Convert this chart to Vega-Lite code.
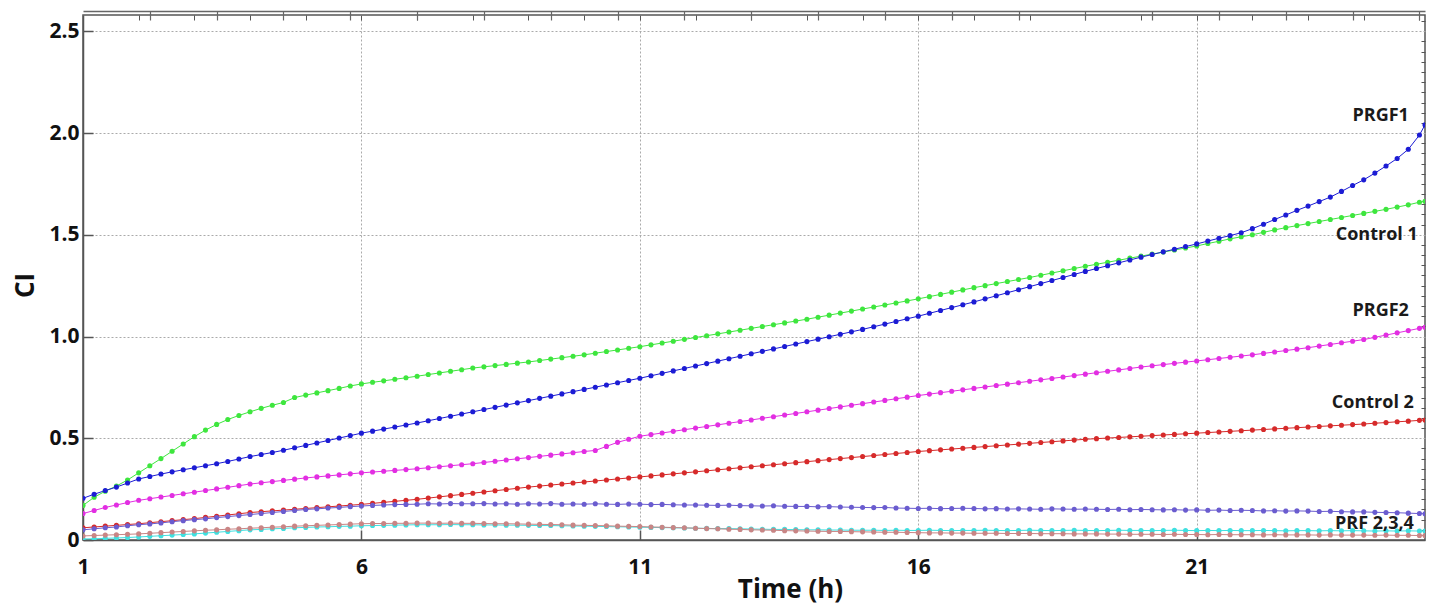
{
"$schema":"https://vega.github.io/schema/vega-lite/v6.json",
"width":1342,"height":525,
"autosize":{"type":"none"},
"padding":{"left":83,"top":15,"right":16,"bottom":75},
"background":"white",
"config":{"view":{"stroke":"#555","strokeWidth":1.5},"font":"Open Sans"},
"datasets":{
"curves":[
{"s":"C1","t":1,"v":0.17},{"s":"C1","t":1.2,"v":0.21},{"s":"C1","t":1.4,"v":0.24},{"s":"C1","t":1.6,"v":0.265},{"s":"C1","t":1.8,"v":0.295},{"s":"C1","t":2,"v":0.33},{"s":"C1","t":2.2,"v":0.365},{"s":"C1","t":2.4,"v":0.4},{"s":"C1","t":2.6,"v":0.436},{"s":"C1","t":2.8,"v":0.472},{"s":"C1","t":3,"v":0.508},{"s":"C1","t":3.2,"v":0.54},{"s":"C1","t":3.4,"v":0.568},{"s":"C1","t":3.6,"v":0.592},{"s":"C1","t":3.8,"v":0.612},{"s":"C1","t":4,"v":0.63},{"s":"C1","t":4.2,"v":0.647},{"s":"C1","t":4.4,"v":0.662},{"s":"C1","t":4.6,"v":0.676},{"s":"C1","t":4.8,"v":0.7},{"s":"C1","t":5,"v":0.712},{"s":"C1","t":5.2,"v":0.723},{"s":"C1","t":5.4,"v":0.734},{"s":"C1","t":5.6,"v":0.745},{"s":"C1","t":5.8,"v":0.757},{"s":"C1","t":6,"v":0.767},{"s":"C1","t":6.2,"v":0.775},{"s":"C1","t":6.4,"v":0.782},{"s":"C1","t":6.6,"v":0.79},{"s":"C1","t":6.8,"v":0.797},{"s":"C1","t":7,"v":0.805},{"s":"C1","t":7.2,"v":0.813},{"s":"C1","t":7.4,"v":0.821},{"s":"C1","t":7.6,"v":0.829},{"s":"C1","t":7.8,"v":0.837},{"s":"C1","t":8,"v":0.845},{"s":"C1","t":8.2,"v":0.851},{"s":"C1","t":8.4,"v":0.857},{"s":"C1","t":8.6,"v":0.863},{"s":"C1","t":8.8,"v":0.869},{"s":"C1","t":9,"v":0.875},{"s":"C1","t":9.2,"v":0.882},{"s":"C1","t":9.4,"v":0.889},{"s":"C1","t":9.6,"v":0.896},{"s":"C1","t":9.8,"v":0.903},{"s":"C1","t":10,"v":0.91},{"s":"C1","t":10.2,"v":0.918},{"s":"C1","t":10.4,"v":0.926},{"s":"C1","t":10.6,"v":0.934},{"s":"C1","t":10.8,"v":0.942},{"s":"C1","t":11,"v":0.95},{"s":"C1","t":11.2,"v":0.959},{"s":"C1","t":11.4,"v":0.968},{"s":"C1","t":11.6,"v":0.977},{"s":"C1","t":11.8,"v":0.986},{"s":"C1","t":12,"v":0.995},{"s":"C1","t":12.2,"v":1.004},{"s":"C1","t":12.4,"v":1.013},{"s":"C1","t":12.6,"v":1.022},{"s":"C1","t":12.8,"v":1.031},{"s":"C1","t":13,"v":1.04},{"s":"C1","t":13.2,"v":1.049},{"s":"C1","t":13.4,"v":1.058},{"s":"C1","t":13.6,"v":1.067},{"s":"C1","t":13.8,"v":1.076},{"s":"C1","t":14,"v":1.085},{"s":"C1","t":14.2,"v":1.095},{"s":"C1","t":14.4,"v":1.105},{"s":"C1","t":14.6,"v":1.115},{"s":"C1","t":14.8,"v":1.125},{"s":"C1","t":15,"v":1.135},{"s":"C1","t":15.2,"v":1.145},{"s":"C1","t":15.4,"v":1.155},{"s":"C1","t":15.6,"v":1.165},{"s":"C1","t":15.8,"v":1.175},{"s":"C1","t":16,"v":1.185},{"s":"C1","t":16.2,"v":1.196},{"s":"C1","t":16.4,"v":1.207},{"s":"C1","t":16.6,"v":1.218},{"s":"C1","t":16.8,"v":1.229},{"s":"C1","t":17,"v":1.24},{"s":"C1","t":17.2,"v":1.25},{"s":"C1","t":17.4,"v":1.26},{"s":"C1","t":17.6,"v":1.27},{"s":"C1","t":17.8,"v":1.28},{"s":"C1","t":18,"v":1.29},{"s":"C1","t":18.2,"v":1.301},{"s":"C1","t":18.4,"v":1.312},{"s":"C1","t":18.6,"v":1.323},{"s":"C1","t":18.8,"v":1.334},{"s":"C1","t":19,"v":1.345},{"s":"C1","t":19.2,"v":1.355},{"s":"C1","t":19.4,"v":1.365},{"s":"C1","t":19.6,"v":1.375},{"s":"C1","t":19.8,"v":1.385},{"s":"C1","t":20,"v":1.395},{"s":"C1","t":20.2,"v":1.405},{"s":"C1","t":20.4,"v":1.415},{"s":"C1","t":20.6,"v":1.425},{"s":"C1","t":20.8,"v":1.435},{"s":"C1","t":21,"v":1.445},{"s":"C1","t":21.2,"v":1.457},{"s":"C1","t":21.4,"v":1.468},{"s":"C1","t":21.6,"v":1.48},{"s":"C1","t":21.8,"v":1.49},{"s":"C1","t":22,"v":1.5},{"s":"C1","t":22.2,"v":1.512},{"s":"C1","t":22.4,"v":1.524},{"s":"C1","t":22.6,"v":1.535},{"s":"C1","t":22.8,"v":1.545},{"s":"C1","t":23,"v":1.555},{"s":"C1","t":23.2,"v":1.565},{"s":"C1","t":23.4,"v":1.575},{"s":"C1","t":23.6,"v":1.585},{"s":"C1","t":23.8,"v":1.595},{"s":"C1","t":24,"v":1.605},{"s":"C1","t":24.2,"v":1.615},{"s":"C1","t":24.4,"v":1.625},{"s":"C1","t":24.6,"v":1.636},{"s":"C1","t":24.8,"v":1.647},{"s":"C1","t":25,"v":1.66},{"s":"C1","t":25.1,"v":1.665},
{"s":"C2","t":1,"v":0.06},{"s":"C2","t":1.2,"v":0.064},{"s":"C2","t":1.4,"v":0.068},{"s":"C2","t":1.6,"v":0.072},{"s":"C2","t":1.8,"v":0.076},{"s":"C2","t":2,"v":0.08},{"s":"C2","t":2.2,"v":0.085},{"s":"C2","t":2.4,"v":0.09},{"s":"C2","t":2.6,"v":0.095},{"s":"C2","t":2.8,"v":0.1},{"s":"C2","t":3,"v":0.105},{"s":"C2","t":3.2,"v":0.111},{"s":"C2","t":3.4,"v":0.117},{"s":"C2","t":3.6,"v":0.123},{"s":"C2","t":3.8,"v":0.129},{"s":"C2","t":4,"v":0.135},{"s":"C2","t":4.2,"v":0.139},{"s":"C2","t":4.4,"v":0.143},{"s":"C2","t":4.6,"v":0.147},{"s":"C2","t":4.8,"v":0.151},{"s":"C2","t":5,"v":0.155},{"s":"C2","t":5.2,"v":0.159},{"s":"C2","t":5.4,"v":0.163},{"s":"C2","t":5.6,"v":0.167},{"s":"C2","t":5.8,"v":0.171},{"s":"C2","t":6,"v":0.175},{"s":"C2","t":6.2,"v":0.18},{"s":"C2","t":6.4,"v":0.185},{"s":"C2","t":6.6,"v":0.19},{"s":"C2","t":6.8,"v":0.195},{"s":"C2","t":7,"v":0.2},{"s":"C2","t":7.2,"v":0.206},{"s":"C2","t":7.4,"v":0.212},{"s":"C2","t":7.6,"v":0.218},{"s":"C2","t":7.8,"v":0.224},{"s":"C2","t":8,"v":0.23},{"s":"C2","t":8.2,"v":0.236},{"s":"C2","t":8.4,"v":0.242},{"s":"C2","t":8.6,"v":0.248},{"s":"C2","t":8.8,"v":0.254},{"s":"C2","t":9,"v":0.26},{"s":"C2","t":9.2,"v":0.265},{"s":"C2","t":9.4,"v":0.27},{"s":"C2","t":9.6,"v":0.275},{"s":"C2","t":9.8,"v":0.28},{"s":"C2","t":10,"v":0.285},{"s":"C2","t":10.2,"v":0.29},{"s":"C2","t":10.4,"v":0.295},{"s":"C2","t":10.6,"v":0.3},{"s":"C2","t":10.8,"v":0.305},{"s":"C2","t":11,"v":0.31},{"s":"C2","t":11.2,"v":0.315},{"s":"C2","t":11.4,"v":0.32},{"s":"C2","t":11.6,"v":0.325},{"s":"C2","t":11.8,"v":0.33},{"s":"C2","t":12,"v":0.335},{"s":"C2","t":12.2,"v":0.34},{"s":"C2","t":12.4,"v":0.345},{"s":"C2","t":12.6,"v":0.35},{"s":"C2","t":12.8,"v":0.355},{"s":"C2","t":13,"v":0.36},{"s":"C2","t":13.2,"v":0.365},{"s":"C2","t":13.4,"v":0.37},{"s":"C2","t":13.6,"v":0.375},{"s":"C2","t":13.8,"v":0.38},{"s":"C2","t":14,"v":0.385},{"s":"C2","t":14.2,"v":0.39},{"s":"C2","t":14.4,"v":0.395},{"s":"C2","t":14.6,"v":0.4},{"s":"C2","t":14.8,"v":0.405},{"s":"C2","t":15,"v":0.41},{"s":"C2","t":15.2,"v":0.415},{"s":"C2","t":15.4,"v":0.42},{"s":"C2","t":15.6,"v":0.425},{"s":"C2","t":15.8,"v":0.43},{"s":"C2","t":16,"v":0.435},{"s":"C2","t":16.2,"v":0.439},{"s":"C2","t":16.4,"v":0.443},{"s":"C2","t":16.6,"v":0.447},{"s":"C2","t":16.8,"v":0.451},{"s":"C2","t":17,"v":0.455},{"s":"C2","t":17.2,"v":0.459},{"s":"C2","t":17.4,"v":0.463},{"s":"C2","t":17.6,"v":0.467},{"s":"C2","t":17.8,"v":0.471},{"s":"C2","t":18,"v":0.475},{"s":"C2","t":18.2,"v":0.479},{"s":"C2","t":18.4,"v":0.483},{"s":"C2","t":18.6,"v":0.487},{"s":"C2","t":18.8,"v":0.491},{"s":"C2","t":19,"v":0.495},{"s":"C2","t":19.2,"v":0.498},{"s":"C2","t":19.4,"v":0.501},{"s":"C2","t":19.6,"v":0.504},{"s":"C2","t":19.8,"v":0.507},{"s":"C2","t":20,"v":0.51},{"s":"C2","t":20.2,"v":0.513},{"s":"C2","t":20.4,"v":0.516},{"s":"C2","t":20.6,"v":0.519},{"s":"C2","t":20.8,"v":0.522},{"s":"C2","t":21,"v":0.525},{"s":"C2","t":21.2,"v":0.528},{"s":"C2","t":21.4,"v":0.531},{"s":"C2","t":21.6,"v":0.534},{"s":"C2","t":21.8,"v":0.537},{"s":"C2","t":22,"v":0.54},{"s":"C2","t":22.2,"v":0.543},{"s":"C2","t":22.4,"v":0.546},{"s":"C2","t":22.6,"v":0.549},{"s":"C2","t":22.8,"v":0.552},{"s":"C2","t":23,"v":0.555},{"s":"C2","t":23.2,"v":0.558},{"s":"C2","t":23.4,"v":0.561},{"s":"C2","t":23.6,"v":0.564},{"s":"C2","t":23.8,"v":0.567},{"s":"C2","t":24,"v":0.57},{"s":"C2","t":24.2,"v":0.574},{"s":"C2","t":24.4,"v":0.577},{"s":"C2","t":24.6,"v":0.581},{"s":"C2","t":24.8,"v":0.584},{"s":"C2","t":25,"v":0.588},{"s":"C2","t":25.1,"v":0.59},
{"s":"F2","t":1,"v":0.05},{"s":"F2","t":1.2,"v":0.055},{"s":"F2","t":1.4,"v":0.06},{"s":"F2","t":1.6,"v":0.064},{"s":"F2","t":1.8,"v":0.07},{"s":"F2","t":2,"v":0.075},{"s":"F2","t":2.2,"v":0.079},{"s":"F2","t":2.4,"v":0.084},{"s":"F2","t":2.6,"v":0.09},{"s":"F2","t":2.8,"v":0.095},{"s":"F2","t":3,"v":0.1},{"s":"F2","t":3.2,"v":0.104},{"s":"F2","t":3.4,"v":0.11},{"s":"F2","t":3.6,"v":0.115},{"s":"F2","t":3.8,"v":0.12},{"s":"F2","t":4,"v":0.125},{"s":"F2","t":4.2,"v":0.13},{"s":"F2","t":4.4,"v":0.135},{"s":"F2","t":4.6,"v":0.14},{"s":"F2","t":4.8,"v":0.145},{"s":"F2","t":5,"v":0.15},{"s":"F2","t":5.2,"v":0.153},{"s":"F2","t":5.4,"v":0.157},{"s":"F2","t":5.6,"v":0.16},{"s":"F2","t":5.8,"v":0.164},{"s":"F2","t":6,"v":0.167},{"s":"F2","t":6.2,"v":0.17},{"s":"F2","t":6.4,"v":0.172},{"s":"F2","t":6.6,"v":0.174},{"s":"F2","t":6.8,"v":0.175},{"s":"F2","t":7,"v":0.176},{"s":"F2","t":7.2,"v":0.178},{"s":"F2","t":7.4,"v":0.177},{"s":"F2","t":7.6,"v":0.179},{"s":"F2","t":7.8,"v":0.178},{"s":"F2","t":8,"v":0.178},{"s":"F2","t":8.2,"v":0.179},{"s":"F2","t":8.4,"v":0.177},{"s":"F2","t":8.6,"v":0.178},{"s":"F2","t":8.8,"v":0.176},{"s":"F2","t":9,"v":0.178},{"s":"F2","t":9.2,"v":0.177},{"s":"F2","t":9.4,"v":0.179},{"s":"F2","t":9.6,"v":0.176},{"s":"F2","t":9.8,"v":0.177},{"s":"F2","t":10,"v":0.176},{"s":"F2","t":10.2,"v":0.178},{"s":"F2","t":10.4,"v":0.176},{"s":"F2","t":10.6,"v":0.175},{"s":"F2","t":10.8,"v":0.177},{"s":"F2","t":11,"v":0.176},{"s":"F2","t":11.2,"v":0.174},{"s":"F2","t":11.4,"v":0.175},{"s":"F2","t":11.6,"v":0.173},{"s":"F2","t":11.8,"v":0.172},{"s":"F2","t":12,"v":0.172},{"s":"F2","t":12.2,"v":0.171},{"s":"F2","t":12.4,"v":0.17},{"s":"F2","t":12.6,"v":0.171},{"s":"F2","t":12.8,"v":0.169},{"s":"F2","t":13,"v":0.168},{"s":"F2","t":13.2,"v":0.167},{"s":"F2","t":13.4,"v":0.168},{"s":"F2","t":13.6,"v":0.166},{"s":"F2","t":13.8,"v":0.165},{"s":"F2","t":14,"v":0.165},{"s":"F2","t":14.2,"v":0.163},{"s":"F2","t":14.4,"v":0.164},{"s":"F2","t":14.6,"v":0.162},{"s":"F2","t":14.8,"v":0.161},{"s":"F2","t":15,"v":0.16},{"s":"F2","t":15.2,"v":0.159},{"s":"F2","t":15.4,"v":0.16},{"s":"F2","t":15.6,"v":0.157},{"s":"F2","t":15.8,"v":0.156},{"s":"F2","t":16,"v":0.155},{"s":"F2","t":16.2,"v":0.156},{"s":"F2","t":16.4,"v":0.154},{"s":"F2","t":16.6,"v":0.155},{"s":"F2","t":16.8,"v":0.156},{"s":"F2","t":17,"v":0.155},{"s":"F2","t":17.2,"v":0.153},{"s":"F2","t":17.4,"v":0.154},{"s":"F2","t":17.6,"v":0.152},{"s":"F2","t":17.8,"v":0.153},{"s":"F2","t":18,"v":0.152},{"s":"F2","t":18.2,"v":0.151},{"s":"F2","t":18.4,"v":0.153},{"s":"F2","t":18.6,"v":0.152},{"s":"F2","t":18.8,"v":0.151},{"s":"F2","t":19,"v":0.152},{"s":"F2","t":19.2,"v":0.151},{"s":"F2","t":19.4,"v":0.15},{"s":"F2","t":19.6,"v":0.151},{"s":"F2","t":19.8,"v":0.149},{"s":"F2","t":20,"v":0.15},{"s":"F2","t":20.2,"v":0.149},{"s":"F2","t":20.4,"v":0.148},{"s":"F2","t":20.6,"v":0.149},{"s":"F2","t":20.8,"v":0.147},{"s":"F2","t":21,"v":0.148},{"s":"F2","t":21.2,"v":0.146},{"s":"F2","t":21.4,"v":0.147},{"s":"F2","t":21.6,"v":0.145},{"s":"F2","t":21.8,"v":0.146},{"s":"F2","t":22,"v":0.145},{"s":"F2","t":22.2,"v":0.143},{"s":"F2","t":22.4,"v":0.144},{"s":"F2","t":22.6,"v":0.142},{"s":"F2","t":22.8,"v":0.143},{"s":"F2","t":23,"v":0.142},{"s":"F2","t":23.2,"v":0.14},{"s":"F2","t":23.4,"v":0.141},{"s":"F2","t":23.6,"v":0.139},{"s":"F2","t":23.8,"v":0.138},{"s":"F2","t":24,"v":0.138},{"s":"F2","t":24.2,"v":0.136},{"s":"F2","t":24.4,"v":0.135},{"s":"F2","t":24.6,"v":0.134},{"s":"F2","t":24.8,"v":0.132},{"s":"F2","t":25,"v":0.13},{"s":"F2","t":25.1,"v":0.129},
{"s":"F3","t":1,"v":0.005},{"s":"F3","t":1.2,"v":0.006},{"s":"F3","t":1.4,"v":0.008},{"s":"F3","t":1.6,"v":0.01},{"s":"F3","t":1.8,"v":0.012},{"s":"F3","t":2,"v":0.015},{"s":"F3","t":2.2,"v":0.018},{"s":"F3","t":2.4,"v":0.021},{"s":"F3","t":2.6,"v":0.024},{"s":"F3","t":2.8,"v":0.027},{"s":"F3","t":3,"v":0.03},{"s":"F3","t":3.2,"v":0.034},{"s":"F3","t":3.4,"v":0.038},{"s":"F3","t":3.6,"v":0.042},{"s":"F3","t":3.8,"v":0.046},{"s":"F3","t":4,"v":0.05},{"s":"F3","t":4.2,"v":0.052},{"s":"F3","t":4.4,"v":0.055},{"s":"F3","t":4.6,"v":0.057},{"s":"F3","t":4.8,"v":0.06},{"s":"F3","t":5,"v":0.062},{"s":"F3","t":5.2,"v":0.064},{"s":"F3","t":5.4,"v":0.065},{"s":"F3","t":5.6,"v":0.067},{"s":"F3","t":5.8,"v":0.068},{"s":"F3","t":6,"v":0.07},{"s":"F3","t":6.2,"v":0.071},{"s":"F3","t":6.4,"v":0.072},{"s":"F3","t":6.6,"v":0.073},{"s":"F3","t":6.8,"v":0.074},{"s":"F3","t":7,"v":0.075},{"s":"F3","t":7.2,"v":0.075},{"s":"F3","t":7.4,"v":0.075},{"s":"F3","t":7.6,"v":0.076},{"s":"F3","t":7.8,"v":0.075},{"s":"F3","t":8,"v":0.075},{"s":"F3","t":8.2,"v":0.074},{"s":"F3","t":8.4,"v":0.074},{"s":"F3","t":8.6,"v":0.073},{"s":"F3","t":8.8,"v":0.073},{"s":"F3","t":9,"v":0.072},{"s":"F3","t":9.2,"v":0.071},{"s":"F3","t":9.4,"v":0.071},{"s":"F3","t":9.6,"v":0.07},{"s":"F3","t":9.8,"v":0.069},{"s":"F3","t":10,"v":0.068},{"s":"F3","t":10.2,"v":0.067},{"s":"F3","t":10.4,"v":0.066},{"s":"F3","t":10.6,"v":0.065},{"s":"F3","t":10.8,"v":0.064},{"s":"F3","t":11,"v":0.063},{"s":"F3","t":11.2,"v":0.062},{"s":"F3","t":11.4,"v":0.061},{"s":"F3","t":11.6,"v":0.06},{"s":"F3","t":11.8,"v":0.059},{"s":"F3","t":12,"v":0.058},{"s":"F3","t":12.2,"v":0.057},{"s":"F3","t":12.4,"v":0.056},{"s":"F3","t":12.6,"v":0.056},{"s":"F3","t":12.8,"v":0.055},{"s":"F3","t":13,"v":0.054},{"s":"F3","t":13.2,"v":0.053},{"s":"F3","t":13.4,"v":0.052},{"s":"F3","t":13.6,"v":0.052},{"s":"F3","t":13.8,"v":0.051},{"s":"F3","t":14,"v":0.05},{"s":"F3","t":14.2,"v":0.05},{"s":"F3","t":14.4,"v":0.049},{"s":"F3","t":14.6,"v":0.049},{"s":"F3","t":14.8,"v":0.048},{"s":"F3","t":15,"v":0.048},{"s":"F3","t":15.2,"v":0.048},{"s":"F3","t":15.4,"v":0.047},{"s":"F3","t":15.6,"v":0.048},{"s":"F3","t":15.8,"v":0.047},{"s":"F3","t":16,"v":0.047},{"s":"F3","t":16.2,"v":0.048},{"s":"F3","t":16.4,"v":0.047},{"s":"F3","t":16.6,"v":0.046},{"s":"F3","t":16.8,"v":0.047},{"s":"F3","t":17,"v":0.047},{"s":"F3","t":17.2,"v":0.048},{"s":"F3","t":17.4,"v":0.047},{"s":"F3","t":17.6,"v":0.046},{"s":"F3","t":17.8,"v":0.047},{"s":"F3","t":18,"v":0.048},{"s":"F3","t":18.2,"v":0.047},{"s":"F3","t":18.4,"v":0.046},{"s":"F3","t":18.6,"v":0.047},{"s":"F3","t":18.8,"v":0.048},{"s":"F3","t":19,"v":0.047},{"s":"F3","t":19.2,"v":0.046},{"s":"F3","t":19.4,"v":0.047},{"s":"F3","t":19.6,"v":0.048},{"s":"F3","t":19.8,"v":0.047},{"s":"F3","t":20,"v":0.047},{"s":"F3","t":20.2,"v":0.046},{"s":"F3","t":20.4,"v":0.047},{"s":"F3","t":20.6,"v":0.048},{"s":"F3","t":20.8,"v":0.047},{"s":"F3","t":21,"v":0.046},{"s":"F3","t":21.2,"v":0.047},{"s":"F3","t":21.4,"v":0.046},{"s":"F3","t":21.6,"v":0.047},{"s":"F3","t":21.8,"v":0.046},{"s":"F3","t":22,"v":0.046},{"s":"F3","t":22.2,"v":0.047},{"s":"F3","t":22.4,"v":0.046},{"s":"F3","t":22.6,"v":0.045},{"s":"F3","t":22.8,"v":0.046},{"s":"F3","t":23,"v":0.046},{"s":"F3","t":23.2,"v":0.045},{"s":"F3","t":23.4,"v":0.046},{"s":"F3","t":23.6,"v":0.045},{"s":"F3","t":23.8,"v":0.046},{"s":"F3","t":24,"v":0.045},{"s":"F3","t":24.2,"v":0.044},{"s":"F3","t":24.4,"v":0.045},{"s":"F3","t":24.6,"v":0.044},{"s":"F3","t":24.8,"v":0.045},{"s":"F3","t":25,"v":0.044},{"s":"F3","t":25.1,"v":0.044},
{"s":"F4","t":1,"v":0.02},{"s":"F4","t":1.2,"v":0.022},{"s":"F4","t":1.4,"v":0.024},{"s":"F4","t":1.6,"v":0.026},{"s":"F4","t":1.8,"v":0.028},{"s":"F4","t":2,"v":0.03},{"s":"F4","t":2.2,"v":0.033},{"s":"F4","t":2.4,"v":0.036},{"s":"F4","t":2.6,"v":0.039},{"s":"F4","t":2.8,"v":0.042},{"s":"F4","t":3,"v":0.045},{"s":"F4","t":3.2,"v":0.048},{"s":"F4","t":3.4,"v":0.05},{"s":"F4","t":3.6,"v":0.053},{"s":"F4","t":3.8,"v":0.055},{"s":"F4","t":4,"v":0.058},{"s":"F4","t":4.2,"v":0.06},{"s":"F4","t":4.4,"v":0.063},{"s":"F4","t":4.6,"v":0.065},{"s":"F4","t":4.8,"v":0.068},{"s":"F4","t":5,"v":0.07},{"s":"F4","t":5.2,"v":0.072},{"s":"F4","t":5.4,"v":0.074},{"s":"F4","t":5.6,"v":0.076},{"s":"F4","t":5.8,"v":0.078},{"s":"F4","t":6,"v":0.08},{"s":"F4","t":6.2,"v":0.081},{"s":"F4","t":6.4,"v":0.081},{"s":"F4","t":6.6,"v":0.082},{"s":"F4","t":6.8,"v":0.082},{"s":"F4","t":7,"v":0.083},{"s":"F4","t":7.2,"v":0.083},{"s":"F4","t":7.4,"v":0.082},{"s":"F4","t":7.6,"v":0.083},{"s":"F4","t":7.8,"v":0.082},{"s":"F4","t":8,"v":0.082},{"s":"F4","t":8.2,"v":0.081},{"s":"F4","t":8.4,"v":0.08},{"s":"F4","t":8.6,"v":0.08},{"s":"F4","t":8.8,"v":0.079},{"s":"F4","t":9,"v":0.078},{"s":"F4","t":9.2,"v":0.077},{"s":"F4","t":9.4,"v":0.076},{"s":"F4","t":9.6,"v":0.075},{"s":"F4","t":9.8,"v":0.073},{"s":"F4","t":10,"v":0.072},{"s":"F4","t":10.2,"v":0.071},{"s":"F4","t":10.4,"v":0.07},{"s":"F4","t":10.6,"v":0.068},{"s":"F4","t":10.8,"v":0.067},{"s":"F4","t":11,"v":0.066},{"s":"F4","t":11.2,"v":0.064},{"s":"F4","t":11.4,"v":0.063},{"s":"F4","t":11.6,"v":0.061},{"s":"F4","t":11.8,"v":0.06},{"s":"F4","t":12,"v":0.058},{"s":"F4","t":12.2,"v":0.056},{"s":"F4","t":12.4,"v":0.055},{"s":"F4","t":12.6,"v":0.053},{"s":"F4","t":12.8,"v":0.052},{"s":"F4","t":13,"v":0.05},{"s":"F4","t":13.2,"v":0.049},{"s":"F4","t":13.4,"v":0.048},{"s":"F4","t":13.6,"v":0.046},{"s":"F4","t":13.8,"v":0.045},{"s":"F4","t":14,"v":0.044},{"s":"F4","t":14.2,"v":0.043},{"s":"F4","t":14.4,"v":0.042},{"s":"F4","t":14.6,"v":0.042},{"s":"F4","t":14.8,"v":0.041},{"s":"F4","t":15,"v":0.04},{"s":"F4","t":15.2,"v":0.039},{"s":"F4","t":15.4,"v":0.038},{"s":"F4","t":15.6,"v":0.038},{"s":"F4","t":15.8,"v":0.037},{"s":"F4","t":16,"v":0.036},{"s":"F4","t":16.2,"v":0.035},{"s":"F4","t":16.4,"v":0.035},{"s":"F4","t":16.6,"v":0.034},{"s":"F4","t":16.8,"v":0.034},{"s":"F4","t":17,"v":0.033},{"s":"F4","t":17.2,"v":0.033},{"s":"F4","t":17.4,"v":0.033},{"s":"F4","t":17.6,"v":0.032},{"s":"F4","t":17.8,"v":0.032},{"s":"F4","t":18,"v":0.032},{"s":"F4","t":18.2,"v":0.031},{"s":"F4","t":18.4,"v":0.031},{"s":"F4","t":18.6,"v":0.031},{"s":"F4","t":18.8,"v":0.03},{"s":"F4","t":19,"v":0.03},{"s":"F4","t":19.2,"v":0.03},{"s":"F4","t":19.4,"v":0.029},{"s":"F4","t":19.6,"v":0.029},{"s":"F4","t":19.8,"v":0.028},{"s":"F4","t":20,"v":0.028},{"s":"F4","t":20.2,"v":0.028},{"s":"F4","t":20.4,"v":0.027},{"s":"F4","t":20.6,"v":0.028},{"s":"F4","t":20.8,"v":0.027},{"s":"F4","t":21,"v":0.027},{"s":"F4","t":21.2,"v":0.026},{"s":"F4","t":21.4,"v":0.027},{"s":"F4","t":21.6,"v":0.026},{"s":"F4","t":21.8,"v":0.026},{"s":"F4","t":22,"v":0.026},{"s":"F4","t":22.2,"v":0.025},{"s":"F4","t":22.4,"v":0.026},{"s":"F4","t":22.6,"v":0.025},{"s":"F4","t":22.8,"v":0.025},{"s":"F4","t":23,"v":0.025},{"s":"F4","t":23.2,"v":0.024},{"s":"F4","t":23.4,"v":0.025},{"s":"F4","t":23.6,"v":0.024},{"s":"F4","t":23.8,"v":0.024},{"s":"F4","t":24,"v":0.024},{"s":"F4","t":24.2,"v":0.023},{"s":"F4","t":24.4,"v":0.024},{"s":"F4","t":24.6,"v":0.023},{"s":"F4","t":24.8,"v":0.023},{"s":"F4","t":25,"v":0.022},{"s":"F4","t":25.1,"v":0.022},
{"s":"G1","t":1,"v":0.205},{"s":"G1","t":1.2,"v":0.225},{"s":"G1","t":1.4,"v":0.243},{"s":"G1","t":1.6,"v":0.26},{"s":"G1","t":1.8,"v":0.28},{"s":"G1","t":2,"v":0.3},{"s":"G1","t":2.2,"v":0.312},{"s":"G1","t":2.4,"v":0.324},{"s":"G1","t":2.6,"v":0.335},{"s":"G1","t":2.8,"v":0.345},{"s":"G1","t":3,"v":0.355},{"s":"G1","t":3.2,"v":0.365},{"s":"G1","t":3.4,"v":0.375},{"s":"G1","t":3.6,"v":0.386},{"s":"G1","t":3.8,"v":0.398},{"s":"G1","t":4,"v":0.41},{"s":"G1","t":4.2,"v":0.42},{"s":"G1","t":4.4,"v":0.43},{"s":"G1","t":4.6,"v":0.441},{"s":"G1","t":4.8,"v":0.453},{"s":"G1","t":5,"v":0.465},{"s":"G1","t":5.2,"v":0.477},{"s":"G1","t":5.4,"v":0.489},{"s":"G1","t":5.6,"v":0.501},{"s":"G1","t":5.8,"v":0.513},{"s":"G1","t":6,"v":0.525},{"s":"G1","t":6.2,"v":0.535},{"s":"G1","t":6.4,"v":0.545},{"s":"G1","t":6.6,"v":0.555},{"s":"G1","t":6.8,"v":0.565},{"s":"G1","t":7,"v":0.575},{"s":"G1","t":7.2,"v":0.586},{"s":"G1","t":7.4,"v":0.597},{"s":"G1","t":7.6,"v":0.608},{"s":"G1","t":7.8,"v":0.619},{"s":"G1","t":8,"v":0.63},{"s":"G1","t":8.2,"v":0.641},{"s":"G1","t":8.4,"v":0.652},{"s":"G1","t":8.6,"v":0.663},{"s":"G1","t":8.8,"v":0.674},{"s":"G1","t":9,"v":0.685},{"s":"G1","t":9.2,"v":0.696},{"s":"G1","t":9.4,"v":0.707},{"s":"G1","t":9.6,"v":0.718},{"s":"G1","t":9.8,"v":0.729},{"s":"G1","t":10,"v":0.74},{"s":"G1","t":10.2,"v":0.751},{"s":"G1","t":10.4,"v":0.762},{"s":"G1","t":10.6,"v":0.773},{"s":"G1","t":10.8,"v":0.784},{"s":"G1","t":11,"v":0.795},{"s":"G1","t":11.2,"v":0.807},{"s":"G1","t":11.4,"v":0.819},{"s":"G1","t":11.6,"v":0.831},{"s":"G1","t":11.8,"v":0.843},{"s":"G1","t":12,"v":0.855},{"s":"G1","t":12.2,"v":0.867},{"s":"G1","t":12.4,"v":0.879},{"s":"G1","t":12.6,"v":0.891},{"s":"G1","t":12.8,"v":0.903},{"s":"G1","t":13,"v":0.915},{"s":"G1","t":13.2,"v":0.927},{"s":"G1","t":13.4,"v":0.939},{"s":"G1","t":13.6,"v":0.951},{"s":"G1","t":13.8,"v":0.963},{"s":"G1","t":14,"v":0.975},{"s":"G1","t":14.2,"v":0.987},{"s":"G1","t":14.4,"v":0.999},{"s":"G1","t":14.6,"v":1.011},{"s":"G1","t":14.8,"v":1.023},{"s":"G1","t":15,"v":1.035},{"s":"G1","t":15.2,"v":1.048},{"s":"G1","t":15.4,"v":1.061},{"s":"G1","t":15.6,"v":1.074},{"s":"G1","t":15.8,"v":1.087},{"s":"G1","t":16,"v":1.1},{"s":"G1","t":16.2,"v":1.114},{"s":"G1","t":16.4,"v":1.128},{"s":"G1","t":16.6,"v":1.142},{"s":"G1","t":16.8,"v":1.156},{"s":"G1","t":17,"v":1.17},{"s":"G1","t":17.2,"v":1.185},{"s":"G1","t":17.4,"v":1.2},{"s":"G1","t":17.6,"v":1.215},{"s":"G1","t":17.8,"v":1.23},{"s":"G1","t":18,"v":1.245},{"s":"G1","t":18.2,"v":1.26},{"s":"G1","t":18.4,"v":1.275},{"s":"G1","t":18.6,"v":1.29},{"s":"G1","t":18.8,"v":1.305},{"s":"G1","t":19,"v":1.32},{"s":"G1","t":19.2,"v":1.334},{"s":"G1","t":19.4,"v":1.348},{"s":"G1","t":19.6,"v":1.362},{"s":"G1","t":19.8,"v":1.376},{"s":"G1","t":20,"v":1.39},{"s":"G1","t":20.2,"v":1.403},{"s":"G1","t":20.4,"v":1.416},{"s":"G1","t":20.6,"v":1.429},{"s":"G1","t":20.8,"v":1.442},{"s":"G1","t":21,"v":1.455},{"s":"G1","t":21.2,"v":1.469},{"s":"G1","t":21.4,"v":1.483},{"s":"G1","t":21.6,"v":1.496},{"s":"G1","t":21.8,"v":1.51},{"s":"G1","t":22,"v":1.53},{"s":"G1","t":22.2,"v":1.552},{"s":"G1","t":22.4,"v":1.575},{"s":"G1","t":22.6,"v":1.597},{"s":"G1","t":22.8,"v":1.62},{"s":"G1","t":23,"v":1.641},{"s":"G1","t":23.2,"v":1.663},{"s":"G1","t":23.4,"v":1.685},{"s":"G1","t":23.6,"v":1.713},{"s":"G1","t":23.8,"v":1.742},{"s":"G1","t":24,"v":1.77},{"s":"G1","t":24.2,"v":1.803},{"s":"G1","t":24.4,"v":1.838},{"s":"G1","t":24.6,"v":1.875},{"s":"G1","t":24.8,"v":1.92},{"s":"G1","t":25,"v":1.99},{"s":"G1","t":25.1,"v":2.04},
{"s":"G2","t":1,"v":0.13},{"s":"G2","t":1.2,"v":0.145},{"s":"G2","t":1.4,"v":0.16},{"s":"G2","t":1.6,"v":0.172},{"s":"G2","t":1.8,"v":0.184},{"s":"G2","t":2,"v":0.195},{"s":"G2","t":2.2,"v":0.203},{"s":"G2","t":2.4,"v":0.211},{"s":"G2","t":2.6,"v":0.219},{"s":"G2","t":2.8,"v":0.227},{"s":"G2","t":3,"v":0.235},{"s":"G2","t":3.2,"v":0.243},{"s":"G2","t":3.4,"v":0.251},{"s":"G2","t":3.6,"v":0.259},{"s":"G2","t":3.8,"v":0.267},{"s":"G2","t":4,"v":0.275},{"s":"G2","t":4.2,"v":0.281},{"s":"G2","t":4.4,"v":0.287},{"s":"G2","t":4.6,"v":0.293},{"s":"G2","t":4.8,"v":0.299},{"s":"G2","t":5,"v":0.305},{"s":"G2","t":5.2,"v":0.31},{"s":"G2","t":5.4,"v":0.315},{"s":"G2","t":5.6,"v":0.32},{"s":"G2","t":5.8,"v":0.325},{"s":"G2","t":6,"v":0.33},{"s":"G2","t":6.2,"v":0.334},{"s":"G2","t":6.4,"v":0.338},{"s":"G2","t":6.6,"v":0.342},{"s":"G2","t":6.8,"v":0.346},{"s":"G2","t":7,"v":0.35},{"s":"G2","t":7.2,"v":0.355},{"s":"G2","t":7.4,"v":0.36},{"s":"G2","t":7.6,"v":0.365},{"s":"G2","t":7.8,"v":0.37},{"s":"G2","t":8,"v":0.375},{"s":"G2","t":8.2,"v":0.381},{"s":"G2","t":8.4,"v":0.387},{"s":"G2","t":8.6,"v":0.393},{"s":"G2","t":8.8,"v":0.399},{"s":"G2","t":9,"v":0.405},{"s":"G2","t":9.2,"v":0.411},{"s":"G2","t":9.4,"v":0.417},{"s":"G2","t":9.6,"v":0.423},{"s":"G2","t":9.8,"v":0.429},{"s":"G2","t":10,"v":0.435},{"s":"G2","t":10.2,"v":0.44},{"s":"G2","t":10.4,"v":0.46},{"s":"G2","t":10.6,"v":0.48},{"s":"G2","t":10.8,"v":0.495},{"s":"G2","t":11,"v":0.51},{"s":"G2","t":11.2,"v":0.518},{"s":"G2","t":11.4,"v":0.526},{"s":"G2","t":11.6,"v":0.534},{"s":"G2","t":11.8,"v":0.542},{"s":"G2","t":12,"v":0.55},{"s":"G2","t":12.2,"v":0.558},{"s":"G2","t":12.4,"v":0.566},{"s":"G2","t":12.6,"v":0.574},{"s":"G2","t":12.8,"v":0.582},{"s":"G2","t":13,"v":0.59},{"s":"G2","t":13.2,"v":0.598},{"s":"G2","t":13.4,"v":0.606},{"s":"G2","t":13.6,"v":0.614},{"s":"G2","t":13.8,"v":0.622},{"s":"G2","t":14,"v":0.63},{"s":"G2","t":14.2,"v":0.638},{"s":"G2","t":14.4,"v":0.646},{"s":"G2","t":14.6,"v":0.654},{"s":"G2","t":14.8,"v":0.662},{"s":"G2","t":15,"v":0.67},{"s":"G2","t":15.2,"v":0.678},{"s":"G2","t":15.4,"v":0.686},{"s":"G2","t":15.6,"v":0.694},{"s":"G2","t":15.8,"v":0.702},{"s":"G2","t":16,"v":0.71},{"s":"G2","t":16.2,"v":0.717},{"s":"G2","t":16.4,"v":0.724},{"s":"G2","t":16.6,"v":0.731},{"s":"G2","t":16.8,"v":0.738},{"s":"G2","t":17,"v":0.745},{"s":"G2","t":17.2,"v":0.752},{"s":"G2","t":17.4,"v":0.759},{"s":"G2","t":17.6,"v":0.766},{"s":"G2","t":17.8,"v":0.773},{"s":"G2","t":18,"v":0.78},{"s":"G2","t":18.2,"v":0.787},{"s":"G2","t":18.4,"v":0.794},{"s":"G2","t":18.6,"v":0.801},{"s":"G2","t":18.8,"v":0.808},{"s":"G2","t":19,"v":0.815},{"s":"G2","t":19.2,"v":0.822},{"s":"G2","t":19.4,"v":0.829},{"s":"G2","t":19.6,"v":0.836},{"s":"G2","t":19.8,"v":0.843},{"s":"G2","t":20,"v":0.85},{"s":"G2","t":20.2,"v":0.856},{"s":"G2","t":20.4,"v":0.862},{"s":"G2","t":20.6,"v":0.868},{"s":"G2","t":20.8,"v":0.874},{"s":"G2","t":21,"v":0.88},{"s":"G2","t":21.2,"v":0.886},{"s":"G2","t":21.4,"v":0.892},{"s":"G2","t":21.6,"v":0.898},{"s":"G2","t":21.8,"v":0.904},{"s":"G2","t":22,"v":0.91},{"s":"G2","t":22.2,"v":0.917},{"s":"G2","t":22.4,"v":0.924},{"s":"G2","t":22.6,"v":0.931},{"s":"G2","t":22.8,"v":0.938},{"s":"G2","t":23,"v":0.945},{"s":"G2","t":23.2,"v":0.953},{"s":"G2","t":23.4,"v":0.961},{"s":"G2","t":23.6,"v":0.969},{"s":"G2","t":23.8,"v":0.977},{"s":"G2","t":24,"v":0.985},{"s":"G2","t":24.2,"v":0.996},{"s":"G2","t":24.4,"v":1.007},{"s":"G2","t":24.6,"v":1.018},{"s":"G2","t":24.8,"v":1.029},{"s":"G2","t":25,"v":1.04},{"s":"G2","t":25.1,"v":1.045}
],
"labels":[
{"label":"PRGF1","t":24.81,"v":2.085},
{"label":"Control 1","t":24.97,"v":1.5},
{"label":"PRGF2","t":24.81,"v":1.125},
{"label":"Control 2","t":24.9,"v":0.675},
{"label":"PRF 2,3,4","t":24.9,"v":0.08}
]
},
"resolve":{"axis":{"x":"independent","y":"independent"}},
"layer":[
{"data":{"name":"curves"},
 "mark":{"type":"line","strokeWidth":1,"clip":true},
 "encoding":{
  "x":{"field":"t","type":"quantitative","scale":{"domain":[1,25.1],"nice":false,"zero":false},
   "axis":{"values":[1,6,11,16,21],"title":"Time (h)","titleFont":"Open Sans","titleFontSize":26,"titleFontWeight":"bold","titleColor":"#111","titleX":707,"titleY":57,"titleBaseline":"alphabetic",
     "labelFont":"Open Sans","labelFontSize":21,"labelFontWeight":"bold","labelColor":"#111","labelPadding":26,"labelFlush":false,
     "tickSize":-10,"tickColor":"#555","tickWidth":1.5,"domainColor":"#555","domainWidth":1.5,
     "grid":true,"gridDash":[2,2],"gridColor":"#aaa","gridWidth":1}},
  "y":{"field":"v","type":"quantitative","scale":{"domain":[0,2.58],"nice":false,"zero":true},
   "axis":{"values":[0,0.5,1,1.5,2,2.5],"labelExpr":"datum.value == 0 ? '0' : format(datum.value, '.1f')","title":"CI","titleFont":"Open Sans","titleFontSize":26,"titleFontWeight":"bold","titleColor":"#111","titleX":-50,"titleY":270,"titleBaseline":"alphabetic",
     "labelFont":"Open Sans","labelFontSize":21,"labelFontWeight":"bold","labelColor":"#111","labelPadding":14,
     "tickSize":-10,"tickColor":"#555","tickWidth":1.5,"domainColor":"#555","domainWidth":1.5,
     "grid":true,"gridDash":[2,2],"gridColor":"#aaa","gridWidth":1}},
  "color":{"field":"s","type":"nominal","scale":{"domain":["C1","C2","F2","F3","F4","G1","G2"],"range":["#3ee63e","#d62a2a","#6a5ccf","#3fe0e0","#c98585","#1c1cd4","#e22ee2"]},"legend":null}
 }},
{"data":{"name":"curves"},
 "mark":{"type":"point","filled":true,"opacity":1,"clip":true},
 "encoding":{
  "x":{"field":"t","type":"quantitative","axis":{"values":[1,2,3,4,5,6,7,8,9,10,11,12,13,14,15,16,17,18,19,20,21,22,23,24,25],"labels":false,"domain":false,"grid":false,"title":null,"tickSize":-5,"tickColor":"#555","tickWidth":1}},
  "y":{"field":"v","type":"quantitative","axis":{"values":[0.05,0.1,0.15,0.2,0.25,0.3,0.35,0.4,0.45,0.55,0.6,0.65,0.7,0.75,0.8,0.85,0.9,0.95,1.05,1.1,1.15,1.2,1.25,1.3,1.35,1.4,1.45,1.55,1.6,1.65,1.7,1.75,1.8,1.85,1.9,1.95,2.05,2.1,2.15,2.2,2.25,2.3,2.35,2.4,2.45,2.55],"labels":false,"domain":false,"grid":false,"title":null,"tickSize":-4,"tickColor":"#555","tickWidth":1}},
  "color":{"field":"s","type":"nominal","legend":null},
  "size":{"field":"s","type":"nominal","scale":{"domain":["C1","C2","F2","F3","F4","G1","G2"],"range":[26,26,18,22,22,48,28]},"legend":null}
 }},
{"data":{"name":"labels"},
 "mark":{"type":"text","align":"right","baseline":"middle","font":"Open Sans","fontSize":18,"fontWeight":"bold","color":"#1a1a1a"},
 "encoding":{
  "x":{"field":"t","type":"quantitative","axis":{"orient":"top","offset":4,"values":[2.2,3.4,4.6,5.8,7,8.2,9.4,10.6,11.8,13,14.2,15.4,16.6,17.8,19,20.2,21.4,22.6,23.8,25],"labels":false,"grid":false,"title":null,"domain":true,"domainColor":"#666","domainWidth":1.5,"tickSize":-9,"tickColor":"#666","tickWidth":1.2}},
  "y":{"field":"v","type":"quantitative","axis":null},
  "text":{"field":"label","type":"nominal"}
 }}
]
}
